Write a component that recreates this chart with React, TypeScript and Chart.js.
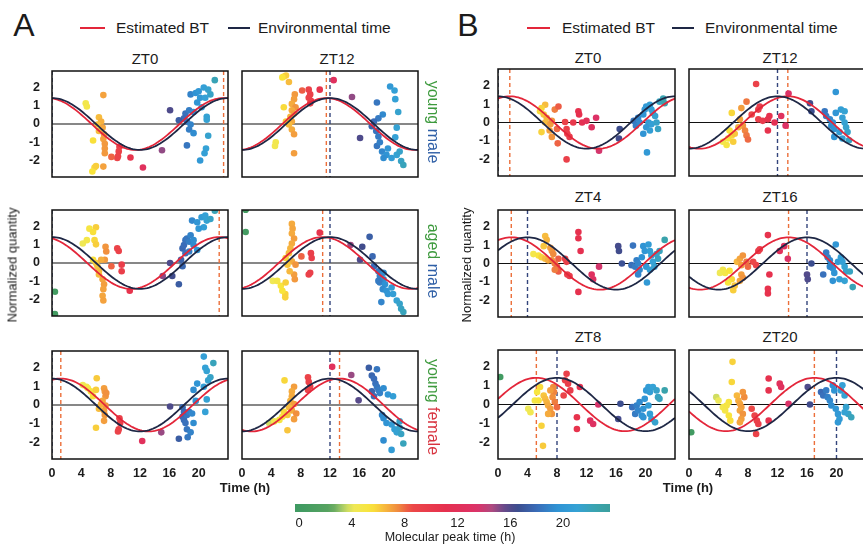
import React, { useEffect, useRef } from "react";
import { Chart, registerables } from "chart.js";

Chart.register(...registerables);

type Pt = [number, number];

// ---------- tick labels ----------
const TIME_TICKS = [0, 4, 8, 12, 16, 20];
const QUANTITY_TICKS = [-2, -1, 0, 1, 2];
const COLORBAR_TICKS = [0, 4, 8, 12, 16, 20];

// ---------- panel titles ----------
const A_TITLES = ["ZT0", "ZT12"];
const B_TITLES = ["ZT0", "ZT12", "ZT4", "ZT16", "ZT8", "ZT20"];

// ---------- cosine model peaks (h), row-major ----------
const CURVE_AMPLITUDE = 1.42;
const A_ENV_PEAK = [0, 12, 0, 12, 0, 12];
const A_BT_PEAK = [23.4, 11.5, 22.8, 11.0, 1.2, 13.3];
const B_ENV_PEAK = [0, 12, 4, 16, 8, 20];
const B_BT_PEAK = [1.6, 13.4, 1.8, 13.5, 5.2, 17.0];

// ---------- molecules: [molecular peak time (h), normalized quantity] ----------
const youngMaleA_ZT0: Pt[] = [
  [4.6, 1.13], [4.75, 0.96], [7.0, 1.58], [6.4, 0.37], [6.7, 0.14], [6.2, -0.03], [6.9, -0.2], [6.4, -0.38],
  [7.1, -0.56], [7.0, -0.82], [7.2, -1.08], [7.2, -1.34], [7.2, -1.6], [5.6, -0.9], [5.8, -2.38], [5.5, -2.6],
  [6.0, -2.3], [7.0, -2.33], [9.2, -1.25], [9.1, -1.5], [9.0, -1.77], [8.9, -1.86], [8.1, -1.8], [10.7, -1.83],
  [12.4, -2.38], [15.0, -1.44], [16.1, 0.75], [18.9, 1.62], [19.6, 1.7], [20.0, 1.79], [20.7, 2.0], [21.3, 1.88],
  [21.6, 1.62], [20.2, 1.44], [20.9, 1.44], [22.2, 2.4], [18.2, 0.57], [18.7, 0.75], [18.0, 0.31], [18.4, 0.14],
  [18.9, -0.03], [18.7, -0.3], [19.3, -0.5], [18.4, -1.17], [21.1, 0.4], [21.1, 0.23], [21.3, -0.64], [21.0, -1.34],
  [20.8, -1.6], [20.2, -2.0], [19.8, 1.18], [19.3, 0.66], [20.4, 0.92], [17.3, 0.2],
];
const youngMaleA_ZT12: Pt[] = [
  [5.7, 2.6], [6.0, 2.65], [5.5, 2.55], [6.4, 2.3], [5.7, 0.92], [7.2, 1.62], [7.1, 1.36], [6.8, 1.1],
  [7.3, 0.92], [6.8, 0.75], [7.1, 0.57], [6.6, 0.4], [6.8, 0.14], [6.4, -0.03], [6.8, -0.3], [7.1, -0.56],
  [6.0, 0.14], [4.6, -1.0], [4.5, -1.2], [7.1, -1.6], [8.2, 1.83], [9.1, 1.88], [9.3, 1.62], [9.1, 1.44],
  [9.4, 1.27], [9.3, 1.13], [10.6, 1.88], [12.5, 2.4], [15.0, 1.48], [16.1, -0.77], [20.2, 2.05], [20.8, 1.83],
  [20.9, 1.36], [21.3, 0.66], [18.4, 1.18], [19.2, 0.52], [18.6, 0.31], [18.0, 0.14], [17.7, -0.12], [18.3, -0.38],
  [18.6, -0.68], [18.4, -1.2], [19.1, -1.51], [19.7, -1.69], [20.4, -1.86], [21.1, -1.69], [21.5, -1.51], [21.7, -2.03],
  [22.0, -2.24], [21.1, -0.2], [20.9, -0.73], [19.9, -1.34], [19.3, -1.86], [18.8, -1.0],
];
const agedMaleA_ZT0: Pt[] = [
  [0.4, -1.57], [0.4, -2.8], [5.1, 1.88], [6.0, 1.96], [5.6, 1.7], [4.2, 1.07], [4.75, 1.25], [5.8, 1.25],
  [6.0, 1.02], [5.6, 0.18], [6.0, 0.0], [6.2, -0.18], [7.3, 0.89], [7.4, 0.63], [7.2, 0.18], [6.7, 0.18],
  [6.4, -0.63], [6.9, -0.89], [7.1, -1.16], [7.0, -1.43], [6.9, -1.79], [7.0, -2.05], [6.4, -0.45], [8.9, 0.8],
  [9.1, 0.66], [8.1, -0.18], [9.5, -0.09], [9.5, -0.45], [10.6, -1.52], [15.1, -0.71], [16.1, 0.0], [16.4, -0.71],
  [17.3, -1.16], [17.8, 0.8], [18.0, 0.98], [18.2, 1.25], [18.4, 1.34], [18.9, 1.52], [18.7, 1.16], [19.3, 0.98],
  [19.1, 2.32], [19.8, 2.23], [20.4, 2.5], [20.9, 2.59], [21.1, 2.32], [21.6, 2.41], [22.2, 2.86], [20.7, 1.96],
  [18.2, 0.54], [18.7, 0.63], [17.6, 0.18], [17.8, -0.18], [19.8, 0.71], [19.3, 1.25], [20.0, 1.88],
];
const agedMaleA_ZT12: Pt[] = [
  [0.5, 2.91], [0.5, 1.7], [4.2, -0.98], [4.8, -0.98], [5.3, -1.25], [5.9, -1.7], [5.95, -1.07], [5.5, -1.52],
  [5.9, -1.88], [6.8, 2.14], [6.9, 1.88], [6.8, 1.61], [7.1, 1.34], [6.8, 1.07], [6.6, 0.8], [6.4, 0.54],
  [5.95, 0.27], [6.8, 0.09], [6.2, -0.09], [7.3, -0.09], [7.1, -0.63], [7.2, -0.89], [6.5, -0.45], [8.1, 0.36],
  [9.4, 0.54], [9.5, 0.27], [9.1, -0.63], [9.3, -0.54], [10.6, 1.66], [14.8, 0.98], [16.1, 0.18], [16.4, 0.89],
  [17.4, 1.43], [17.8, 0.36], [18.0, -0.18], [18.6, -0.45], [18.8, -0.71], [19.3, -0.89], [18.8, -1.07], [19.5, -1.16],
  [19.2, -1.43], [19.7, -1.52], [19.0, -2.14], [19.9, -1.7], [20.6, -1.7], [21.1, -2.05], [21.5, -2.23], [21.7, -2.5],
  [22.0, -2.68], [20.4, -1.34], [18.6, -0.98], [19.3, -0.54],
];
const youngFemaleA_ZT0: Pt[] = [
  [4.2, 1.07], [4.7, 0.98], [4.9, 0.9], [5.3, 0.73], [5.6, 0.47], [6.0, 0.81], [6.0, -1.22], [6.1, 1.44],
  [7.1, 0.9], [7.2, 0.73], [7.3, 0.47], [6.9, 0.22], [7.3, -0.03], [7.1, -0.29], [7.2, -0.54], [7.1, -0.85],
  [6.4, -0.2], [6.7, 0.05], [7.4, 0.64], [9.2, -0.71], [9.3, -0.97], [9.1, -1.3], [9.0, -1.42], [12.3, -1.93],
  [14.9, -1.47], [16.1, -0.08], [17.3, -1.81], [17.8, -0.63], [18.0, -0.8], [18.2, -0.97], [18.4, -0.54], [18.0, -0.37],
  [18.7, -0.37], [18.4, -1.3], [18.9, -1.47], [18.5, -1.73], [19.3, 0.81], [19.8, 1.15], [19.6, 0.22], [20.7, 2.6],
  [20.9, 2.0], [21.1, 1.83], [21.6, 1.49], [21.3, 1.32], [20.7, 0.98], [22.0, 2.25], [21.1, 0.3], [20.9, -0.37],
  [19.1, -0.46], [19.3, -0.97], [17.8, -0.12],
];
const youngFemaleA_ZT12: Pt[] = [
  [5.8, 1.32], [3.7, -0.97], [4.4, -0.88], [5.1, -0.8], [6.2, -1.36], [5.5, -0.63], [5.7, -0.37], [7.1, 0.98],
  [6.8, 0.73], [6.8, 0.47], [6.6, 0.22], [7.1, 0.05], [6.4, -0.12], [6.8, -0.29], [7.1, -0.76], [7.4, -0.46],
  [6.2, -0.54], [9.0, 1.49], [9.1, 1.24], [9.3, 0.98], [9.0, 0.81], [12.3, 2.05], [14.9, 1.61], [15.9, 0.25],
  [17.3, 2.0], [18.4, 1.92], [17.7, 1.58], [18.0, 1.41], [18.2, 1.15], [18.4, 0.98], [18.6, 0.81], [17.7, 0.73],
  [18.8, 0.64], [18.0, 0.47], [19.3, 0.9], [20.6, 0.47], [19.9, 0.56], [19.1, -0.54], [19.3, -0.71], [19.7, -0.97],
  [20.4, -1.05], [20.8, -1.3], [21.1, -1.47], [21.5, -1.22], [19.3, -1.9], [20.4, -2.41], [21.7, -1.56], [22.0, -2.07],
  [21.5, -0.88],
];
const panelB_ZT0: Pt[] = [
  [6.4, 0.96], [5.9, 0.78], [5.7, 0.61], [6.2, 0.43], [6.6, 0.26], [5.9, -0.52], [6.4, 0.0], [7.1, -0.09],
  [7.0, -0.43], [7.3, -0.78], [8.0, -0.35], [8.1, -1.13], [7.7, 0.7], [8.2, 0.87], [7.3, 0.09], [9.1, 0.03],
  [9.3, -0.35], [9.4, -0.61], [9.7, -0.78], [10.2, 0.0], [10.9, 0.61], [11.0, 0.43], [11.4, 0.0], [12.0, 0.09],
  [12.7, -0.26], [13.3, 0.26], [9.3, -2.0], [13.7, -1.53], [16.5, -0.35], [16.4, -0.87], [18.4, 0.09], [18.7, -0.17],
  [19.0, 0.26], [19.2, 0.0], [19.7, 0.43], [19.9, 0.7], [20.1, 0.87], [20.6, 0.96], [20.8, 0.7], [21.0, 0.52],
  [21.3, 0.35], [20.4, 0.0], [20.8, -0.09], [21.5, 0.0], [21.7, -0.35], [21.9, 1.13], [22.4, 1.3], [22.6, 1.04],
  [20.1, -0.26], [19.7, -0.61], [20.2, -1.62], [20.6, -0.43],
];
const panelB_ZT12: Pt[] = [
  [5.8, 0.52], [4.6, -1.04], [5.3, -0.87], [5.8, -0.7], [6.2, -0.61], [5.5, -0.43], [5.1, -1.22], [6.0, -1.04],
  [7.1, 0.78], [6.9, 0.17], [7.3, -0.17], [7.6, -0.43], [7.8, -0.7], [8.0, -0.92], [6.7, -0.26], [7.8, 1.13],
  [8.5, 0.43], [9.4, 0.7], [9.6, 0.87], [9.4, 0.17], [9.1, 2.09], [10.0, 0.09], [10.7, 0.17], [10.9, 0.35],
  [10.7, -0.43], [11.6, 0.0], [12.5, 0.35], [13.1, -0.17], [13.5, 1.57], [16.4, 1.04], [16.6, 0.61], [18.4, 0.61],
  [18.6, 0.35], [19.1, 0.17], [19.3, -0.17], [19.7, -0.35], [19.9, 0.52], [20.6, 0.7], [21.1, 0.61], [20.8, 0.26],
  [21.1, 0.0], [21.3, -0.26], [21.5, -0.52], [19.9, 1.65], [19.7, -0.78], [20.8, -0.87], [20.4, -0.52], [21.7, -0.96],
  [19.5, 0.0],
];
const panelB_ZT4: Pt[] = [
  [6.4, 1.49], [6.6, 1.28], [6.2, 0.94], [4.8, 0.51], [5.5, 0.43], [5.9, 0.34], [6.4, 0.26], [6.8, 0.17],
  [7.1, 0.85], [7.3, 0.68], [7.5, 0.51], [7.3, 0.17], [7.7, 0.0], [8.0, -0.17], [8.2, -0.43], [7.7, -0.34],
  [8.2, 0.26], [9.1, 0.26], [9.3, 0.09], [9.4, -0.6], [9.7, -0.68], [10.9, 1.71], [10.9, 1.37], [11.2, 0.68],
  [10.9, -1.54], [12.7, -0.6], [12.9, -0.85], [13.7, -0.17], [16.3, 0.94], [16.4, 0.68], [16.8, 0.0], [18.3, 0.97],
  [18.1, -0.09], [18.6, -0.17], [18.8, 0.17], [19.0, 0.0], [19.5, 0.34], [19.7, 0.94], [19.9, 0.68], [20.4, 1.03],
  [20.6, 0.68], [20.8, 0.43], [21.0, 0.09], [21.5, 0.51], [21.7, 0.26], [21.9, 0.68], [22.6, 1.28], [19.2, -0.34],
  [19.0, -0.6], [20.2, -1.03], [20.1, -0.17], [20.6, -0.34], [21.2, -0.17],
];
const panelB_ZT16: Pt[] = [
  [4.2, -0.51], [4.9, -0.51], [5.5, -0.39], [5.8, -0.85], [6.0, -1.45], [5.3, -1.03], [4.6, -0.34], [6.2, -1.2],
  [6.5, 0.09], [6.9, 0.26], [7.3, 0.43], [7.1, -0.09], [7.1, -0.6], [6.9, -0.94], [7.3, -0.77], [7.8, 0.09],
  [8.0, -0.17], [9.1, -0.09], [9.4, 0.68], [9.6, 0.77], [8.7, 0.09], [10.9, -0.6], [10.7, -1.37], [10.7, -1.62],
  [10.7, 1.54], [12.3, 0.68], [12.9, 0.94], [13.4, 0.26], [16.0, -0.6], [16.1, -0.85], [16.6, 0.0], [18.2, -0.6],
  [18.6, 0.6], [18.8, 0.34], [19.1, 0.17], [19.3, -0.09], [19.5, -0.26], [19.7, -0.51], [19.9, 1.03], [20.2, 0.09],
  [20.6, 0.34], [20.8, 0.09], [21.1, -0.17], [21.3, -0.43], [21.1, -0.94], [20.4, -0.85], [21.8, -0.43], [22.2, -1.28],
  [19.5, -0.94], [19.1, -0.17],
];
const panelB_ZT8: Pt[] = [
  [0.3, 1.46], [4.1, -0.23], [4.4, -0.41], [5.0, 0.21], [5.5, 0.21], [5.7, 0.93], [5.9, -1.13], [6.1, -2.2],
  [5.3, 0.66], [6.2, 0.48], [6.4, 0.3], [6.6, 0.13], [6.8, -0.05], [7.1, -0.23], [7.3, -0.5], [7.5, 0.93],
  [7.6, 0.66], [7.4, 0.39], [7.7, 0.13], [8.0, -0.14], [6.8, -0.5], [7.1, 0.75], [9.3, 1.64], [9.1, 1.29],
  [9.5, 1.11], [8.9, 0.48], [9.8, 0.75], [11.1, 0.93], [10.7, -0.68], [10.7, -1.3], [12.5, -0.86], [12.9, -1.04],
  [13.6, 0.0], [16.6, 0.04], [16.3, -0.77], [18.2, -0.14], [18.6, -0.5], [18.8, -0.05], [19.0, -0.32], [19.2, 0.13],
  [19.5, -0.59], [19.7, -0.23], [19.9, 0.3], [20.1, 0.75], [20.4, 0.93], [20.6, 0.66], [21.0, 0.93], [21.5, 0.75],
  [21.7, 0.39], [21.9, 0.3], [22.6, 0.75], [20.6, -0.5], [20.8, -0.77], [21.3, -0.95], [19.7, -0.68], [20.4, -0.05],
];
const panelB_ZT20: Pt[] = [
  [0.3, -1.48], [3.7, 0.39], [4.0, 0.21], [4.6, -0.14], [4.9, -0.32], [5.4, -0.59], [5.6, -0.86], [5.8, 1.2],
  [5.9, 2.27], [5.4, 0.13], [5.1, -0.05], [6.5, 0.48], [6.7, 0.21], [6.9, 0.04], [7.1, -0.14], [6.9, -0.32],
  [7.3, -0.5], [7.1, -0.77], [6.9, -0.95], [7.5, 0.39], [7.3, 0.66], [8.5, -0.23], [8.9, -0.59], [9.2, -0.86],
  [9.4, -1.04], [9.1, -1.57], [10.8, 1.38], [10.8, 0.75], [12.3, 1.11], [12.5, 0.93], [10.8, -0.86], [13.5, 0.04],
  [16.1, 0.93], [16.4, 0.0], [17.9, 0.66], [18.2, 0.48], [18.6, 0.75], [18.8, 0.39], [19.1, 0.21], [19.3, -0.05],
  [19.5, 1.02], [19.7, 0.75], [19.9, -0.23], [20.2, -0.5], [20.4, -0.77], [20.6, 0.75], [20.8, 1.02], [21.1, 0.48],
  [21.3, -0.14], [21.6, -0.5], [22.0, -0.68], [20.2, -0.95], [21.1, -0.41],
];

// ---------- styles ----------
const FONT = '"Liberation Sans", Arial, Helvetica, sans-serif';
const INK = "#1b1b1b";
const RED = "#e3263a";
const NAVY = "#1e2745";
const BT_DASH = "#ec6f3a";
const ENV_DASH = "#34457c";

const COLOR_STOPS: [number, string][] = [
  [0, "#3f9a62"], [2.5, "#5aa460"], [3.3, "#a8cc6a"], [4, "#eee95a"], [5.5, "#f9e43a"], [6.5, "#f7b83e"],
  [7.5, "#f08c3e"], [8.5, "#ec4848"], [11, "#e6304e"], [13.5, "#dc3268"], [14.6, "#b04a80"], [15.5, "#6a4a8a"],
  [16.5, "#3c4c8c"], [18, "#3a6cb8"], [19.5, "#2f92d4"], [21, "#35a2d6"], [22.5, "#3aa3ae"], [24, "#3c9d96"],
];

function hexToRgb(h: string) {
  const n = parseInt(h.slice(1), 16);
  return [(n >> 16) & 255, (n >> 8) & 255, n & 255];
}
function peakColor(t: number): string {
  const s = COLOR_STOPS;
  if (t <= s[0][0]) return s[0][1];
  for (let i = 1; i < s.length; i++) {
    if (t <= s[i][0]) {
      const f = (t - s[i - 1][0]) / (s[i][0] - s[i - 1][0]);
      const a = hexToRgb(s[i - 1][1]);
      const b = hexToRgb(s[i][1]);
      const c = a.map((v, k) => Math.round(v + (b[k] - v) * f));
      return `rgb(${c[0]},${c[1]},${c[2]})`;
    }
  }
  return s[s.length - 1][1];
}

function cosineModel(peak: number) {
  const out: { x: number; y: number }[] = [];
  for (let i = 0; i <= 96; i++) {
    const t = i / 4;
    out.push({ x: t, y: CURVE_AMPLITUDE * Math.cos((2 * Math.PI * (t - peak)) / 24) });
  }
  return out;
}

type PanelProps = {
  points: Pt[];
  envPeak: number;
  btPeak: number;
  left: number;
  top: number;
  width: number;
  height: number;
  yLabels: boolean;
  xLabels: boolean;
  yAxisW: number;
  yPad: number;
};

const PAD = 2;
const TICK_FONT = { family: FONT, size: 12.5, weight: "bold" as const };

function zeroPadding(s: any) {
  s.paddingTop = 0;
  s.paddingBottom = 0;
  s.paddingLeft = 0;
  s.paddingRight = 0;
}

function Panel(p: PanelProps) {
  const ref = useRef<HTMLCanvasElement>(null);
  const XH = p.xLabels ? 26 : 0;
  const cw = p.yAxisW + p.width + PAD;
  const ch = PAD + p.height + XH + PAD;
  useEffect(() => {
    const colors = p.points.map((q) => peakColor(q[0]));
    const framePlugin = {
      id: "frame",
      beforeDatasetsDraw(chart: any) {
        const { ctx, chartArea: a, scales } = chart;
        ctx.save();
        ctx.beginPath();
        ctx.rect(a.left, a.top, a.right - a.left, a.bottom - a.top);
        ctx.clip();
        const y0 = scales.y.getPixelForValue(0);
        ctx.strokeStyle = "#111";
        ctx.lineWidth = 1.2;
        ctx.beginPath();
        ctx.moveTo(a.left, y0);
        ctx.lineTo(a.right, y0);
        ctx.stroke();
        ctx.setLineDash([4, 3]);
        ctx.lineWidth = 1.4;
        const lines: [number, string][] = [
          [p.btPeak, BT_DASH],
          [p.envPeak, ENV_DASH],
        ];
        for (const [v, c] of lines) {
          const x = scales.x.getPixelForValue(v);
          ctx.strokeStyle = c;
          ctx.beginPath();
          ctx.moveTo(x, a.top);
          ctx.lineTo(x, a.bottom);
          ctx.stroke();
        }
        ctx.restore();
      },
      afterDraw(chart: any) {
        const { ctx, chartArea: a } = chart;
        ctx.save();
        ctx.strokeStyle = "#111";
        ctx.lineWidth = 1.5;
        ctx.strokeRect(a.left, a.top, a.right - a.left, a.bottom - a.top);
        ctx.restore();
      },
    };
    const chart = new Chart(ref.current as HTMLCanvasElement, {
      type: "scatter",
      data: {
        datasets: [
          {
            data: cosineModel(p.envPeak),
            showLine: true,
            borderColor: NAVY,
            borderWidth: 1.8,
            pointRadius: 0,
            order: 1,
          } as any,
          {
            data: cosineModel(p.btPeak),
            showLine: true,
            borderColor: RED,
            borderWidth: 1.8,
            pointRadius: 0,
            order: 2,
          } as any,
          {
            data: p.points.map(([x, y]) => ({ x, y })),
            backgroundColor: colors,
            borderColor: colors,
            borderWidth: 0,
            pointRadius: 3.3,
            order: 3,
          } as any,
        ],
      },
      options: {
        animation: false,
        responsive: false,
        maintainAspectRatio: false,
        events: [],
        layout: { padding: { top: PAD, right: PAD, bottom: PAD, left: 0 } },
        plugins: { legend: { display: false }, tooltip: { enabled: false } },
        scales: {
          x: {
            type: "linear",
            min: 0,
            max: 24,
            display: p.xLabels,
            grid: { display: false, drawTicks: false },
            border: { display: false },
            afterBuildTicks: (s: any) => {
              s.ticks = TIME_TICKS.map((v) => ({ value: v }));
            },
            afterFit: (s: any) => {
              s.height = XH;
              zeroPadding(s);
            },
            ticks: {
              autoSkip: false,
              maxRotation: 0,
              padding: 7,
              color: INK,
              font: TICK_FONT,
            },
          },
          y: {
            type: "linear",
            min: -2.9,
            max: 2.9,
            grid: { display: false, drawTicks: false },
            border: { display: false },
            afterBuildTicks: (s: any) => {
              s.ticks = QUANTITY_TICKS.map((v) => ({ value: v }));
            },
            afterFit: (s: any) => {
              s.width = p.yAxisW;
              zeroPadding(s);
            },
            ticks: {
              display: p.yLabels,
              padding: p.yPad,
              color: INK,
              font: TICK_FONT,
            },
          },
        },
      } as any,
      plugins: [framePlugin],
    });
    return () => chart.destroy();
  }, []);
  return (
    <canvas
      ref={ref}
      width={cw}
      height={ch}
      style={{ position: "absolute", left: p.left - p.yAxisW, top: p.top - PAD, width: cw, height: ch }}
    />
  );
}

function Txt(props: {
  x: number;
  y: number;
  size: number;
  children: React.ReactNode;
  color?: string;
  rotate?: number;
  weight?: number | string;
  anchor?: "left" | "center";
}) {
  const tx = props.anchor === "left" ? "0" : "-50%";
  return (
    <div
      style={{
        position: "absolute",
        left: props.x,
        top: props.y,
        transform: `translate(${tx},-50%)${props.rotate ? ` rotate(${props.rotate}deg)` : ""}`,
        transformOrigin: props.anchor === "left" ? "0 50%" : "50% 50%",
        fontFamily: FONT,
        fontSize: props.size,
        fontWeight: props.weight ?? "normal",
        color: props.color ?? INK,
        lineHeight: 1,
        whiteSpace: "nowrap",
      }}
    >
      {props.children}
    </div>
  );
}

function LegendLine({ x1, x2, y, color }: { x1: number; x2: number; y: number; color: string }) {
  return <div style={{ position: "absolute", left: x1, top: y - 1, width: x2 - x1, height: 2.2, background: color }} />;
}

const A_COLS = [52, 242];
const A_WIDTHS = [178, 178];
const A_ROWS = [69, 208, 349];
const A_HEIGHT = 110;
const B_COLS = [498, 689];
const B_WIDTHS = [179, 179];
const B_ROWS = [67, 208, 348];
const B_HEIGHT = 111;

const A_DATA = [youngMaleA_ZT0, youngMaleA_ZT12, agedMaleA_ZT0, agedMaleA_ZT12, youngFemaleA_ZT0, youngFemaleA_ZT12];
const B_DATA = [panelB_ZT0, panelB_ZT12, panelB_ZT4, panelB_ZT16, panelB_ZT8, panelB_ZT20];

const CB_LEFT = 295;
const CB_RIGHT = 610;
const CB_ZERO = 299;
const CB_PER_H = 13.2;

export default function App() {
  const cbStart = (CB_LEFT - CB_ZERO) / CB_PER_H;
  const cbEnd = (CB_RIGHT - CB_ZERO) / CB_PER_H;
  const gradStops: string[] = [];
  for (let i = 0; i <= 48; i++) {
    const h = cbStart + ((cbEnd - cbStart) * i) / 48;
    gradStops.push(`${peakColor(h)} ${((i / 48) * 100).toFixed(2)}%`);
  }

  const panels: React.ReactElement[] = [];
  for (let r = 0; r < 3; r++) {
    for (let c = 0; c < 2; c++) {
      const i = r * 2 + c;
      panels.push(
        <Panel
          key={"a" + i}
          points={A_DATA[i]}
          envPeak={A_ENV_PEAK[i]}
          btPeak={A_BT_PEAK[i]}
          left={A_COLS[c]}
          top={A_ROWS[r]}
          width={A_WIDTHS[c]}
          height={A_HEIGHT}
          yLabels={c === 0}
          xLabels={r === 2}
          yAxisW={c === 0 ? 34 : 10}
          yPad={12}
        />
      );
      panels.push(
        <Panel
          key={"b" + i}
          points={B_DATA[i]}
          envPeak={B_ENV_PEAK[i]}
          btPeak={B_BT_PEAK[i]}
          left={B_COLS[c]}
          top={B_ROWS[r]}
          width={B_WIDTHS[c]}
          height={B_HEIGHT}
          yLabels={c === 0}
          xLabels={r === 2}
          yAxisW={c === 0 ? 30 : 10}
          yPad={8}
        />
      );
    }
  }

  return (
    <div
      style={{
        position: "fixed",
        left: 0,
        top: 0,
        width: 863,
        height: 548,
        overflow: "hidden",
        background: "#fff",
      }}
    >
      {/* Panel letters */}
      <Txt x={24} y={25} size={32}>A</Txt>
      <Txt x={468} y={25} size={32}>B</Txt>

      {/* Legends */}
      <LegendLine x1={80} x2={105} y={28} color={RED} />
      <Txt x={116} y={28} size={15.5} anchor="left">Estimated BT</Txt>
      <LegendLine x1={228} x2={250} y={28} color={NAVY} />
      <Txt x={258} y={28} size={15.5} anchor="left">Environmental time</Txt>
      <LegendLine x1={527} x2={550} y={28} color={RED} />
      <Txt x={562} y={28} size={15.5} anchor="left">Estimated BT</Txt>
      <LegendLine x1={672} x2={694} y={28} color={NAVY} />
      <Txt x={705} y={28} size={15.5} anchor="left">Environmental time</Txt>

      {/* Titles */}
      <Txt x={145} y={58} size={15}>{A_TITLES[0]}</Txt>
      <Txt x={337} y={58} size={15}>{A_TITLES[1]}</Txt>
      <Txt x={588} y={57} size={15}>{B_TITLES[0]}</Txt>
      <Txt x={780} y={57} size={15}>{B_TITLES[1]}</Txt>
      <Txt x={588} y={196} size={15}>{B_TITLES[2]}</Txt>
      <Txt x={780} y={196} size={15}>{B_TITLES[3]}</Txt>
      <Txt x={588} y={336} size={15}>{B_TITLES[4]}</Txt>
      <Txt x={780} y={336} size={15}>{B_TITLES[5]}</Txt>

      {panels}

      {/* Axis titles */}
      <Txt x={12} y={265} size={13} rotate={-90}>Normalized quantity</Txt>
      <Txt x={466} y={265} size={13} rotate={-90}>Normalized quantity</Txt>
      <Txt x={245} y={487} size={13} weight="bold">Time (h)</Txt>
      <Txt x={688} y={487} size={13} weight="bold">Time (h)</Txt>

      {/* Group labels */}
      <Txt x={433} y={122} size={16} rotate={90}>
        <span style={{ color: "#3d9a3d" }}>young</span> <span style={{ color: "#2f5fa6" }}>male</span>
      </Txt>
      <Txt x={433} y={261} size={16} rotate={90}>
        <span style={{ color: "#3d9a3d" }}>aged</span> <span style={{ color: "#2f5fa6" }}>male</span>
      </Txt>
      <Txt x={433} y={407} size={16} rotate={90}>
        <span style={{ color: "#3d9a3d" }}>young</span> <span style={{ color: "#d8323e" }}>female</span>
      </Txt>

      {/* Colour bar */}
      <div
        style={{
          position: "absolute",
          left: CB_LEFT,
          top: 504,
          width: CB_RIGHT - CB_LEFT,
          height: 8,
          background: `linear-gradient(to right, ${gradStops.join(", ")})`,
        }}
      />
      {COLORBAR_TICKS.map((t) => (
        <Txt key={t} x={CB_ZERO + t * CB_PER_H} y={522} size={13}>
          {t}
        </Txt>
      ))}
      <Txt x={450} y={537} size={12.5}>Molecular peak time (h)</Txt>
    </div>
  );
}
